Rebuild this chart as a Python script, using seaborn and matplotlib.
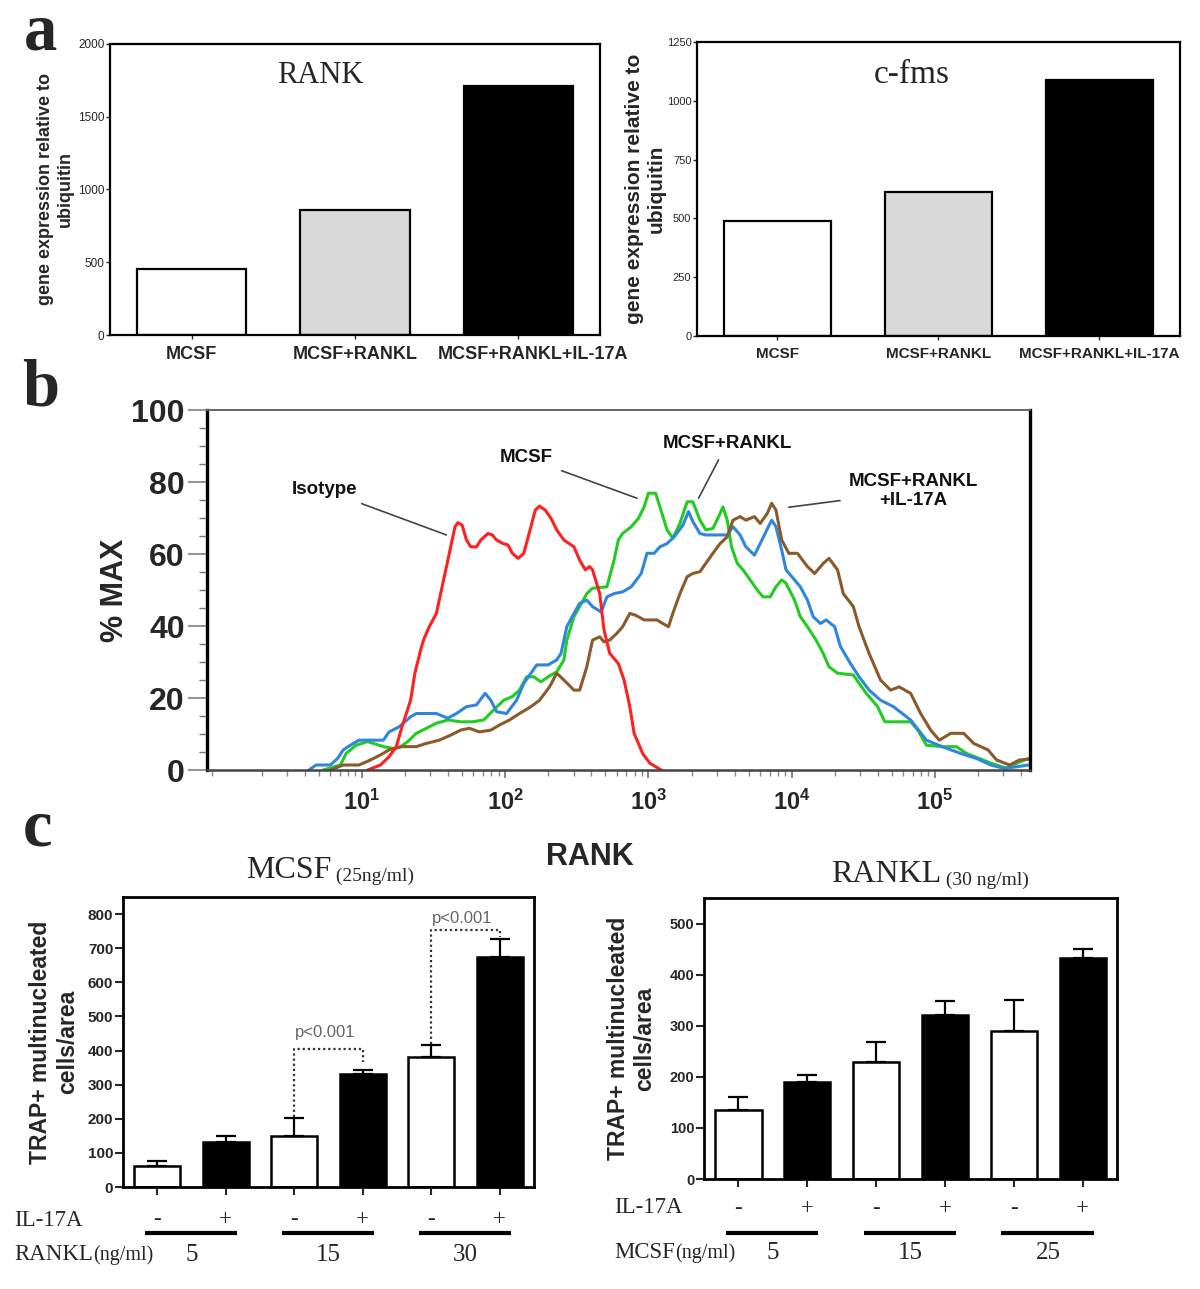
import numpy as np
import pandas as pd
import matplotlib
matplotlib.use("Agg")
import matplotlib.pyplot as plt
import matplotlib.transforms as mtransforms
from matplotlib.ticker import MultipleLocator, LogLocator, NullFormatter
import seaborn as sns

sns.set_style("ticks")
plt.rcParams["font.family"] = ["Liberation Sans", "DejaVu Sans"]
plt.rcParams["mathtext.fontset"] = "custom"
plt.rcParams["mathtext.rm"] = "Liberation Sans"
plt.rcParams["mathtext.bf"] = "Liberation Sans:bold"
SERIF = ["Liberation Serif", "DejaVu Serif"]

# ---- panel a: gene expression relative to ubiquitin ----
a_groups = ["MCSF", "MCSF+RANKL", "MCSF+RANKL+IL-17A"]
a_colors = ["white", "#d9d9d9", "black"]
rank_expr = [455, 858, 1714]
cfms_expr = [488, 611, 1088]

# ---- panel b: RANK flow cytometry histograms (log10 intensity, % of max) ----
b_samples = ["Isotype", "MCSF", "MCSF+RANKL", "MCSF+RANKL+IL-17A"]
b_colors = {"Isotype": "#ff2020", "MCSF": "#22cc22",
            "MCSF+RANKL": "#2f86dc", "MCSF+RANKL+IL-17A": "#8b5a2b"}
b_draw_order = ["MCSF", "MCSF+RANKL", "MCSF+RANKL+IL-17A", "Isotype"]

iso_log = [1.04, 1.13, 1.19, 1.24, 1.28, 1.34, 1.37, 1.41, 1.43, 1.47, 1.52, 1.54, 1.58,
           1.62, 1.65, 1.67, 1.70, 1.73, 1.76, 1.80, 1.83, 1.88, 1.91, 1.94, 1.98, 2.02,
           2.05, 2.09, 2.13, 2.18, 2.21, 2.24, 2.28, 2.32, 2.36, 2.41, 2.48, 2.52, 2.56,
           2.59, 2.61, 2.66, 2.69, 2.73, 2.79, 2.83, 2.87, 2.90, 2.96, 3.01, 3.09]
iso_pct = [0, 1.4, 3.7, 6.5, 12, 19.4, 26.9, 33.3, 36.1, 39.8, 43.5, 47.2, 54.6,
           62, 67.6, 68.7, 68, 63.9, 62, 62, 63.9, 65.7, 65.3, 63.9, 63, 62.5,
           60.2, 58.8, 60.2, 67.6, 72.2, 73.3, 72.2, 69.9, 66.7, 63.9, 62, 58.3, 55.6,
           56.5, 55.6, 49, 38.9, 32.4, 29.6, 25, 17.6, 10.2, 4.6, 1.9, 0]

mcsf_log = [0.73, 0.85, 0.89, 0.96, 1.04, 1.08, 1.15, 1.22, 1.27, 1.32, 1.38, 1.45, 1.52,
            1.60, 1.69, 1.77, 1.85, 1.92, 1.99, 2.05, 2.10, 2.15, 2.20, 2.25, 2.30, 2.36,
            2.41, 2.43, 2.48, 2.52, 2.57, 2.61, 2.71, 2.76, 2.79, 2.82, 2.88, 2.93, 2.97,
            3.00, 3.05, 3.08, 3.13, 3.17, 3.22, 3.27, 3.31, 3.36, 3.40, 3.45, 3.49, 3.52,
            3.55, 3.58, 3.62, 3.66, 3.71, 3.76, 3.80, 3.85, 3.89, 3.93, 3.96, 4.02, 4.06,
            4.11, 4.17, 4.22, 4.26, 4.32, 4.43, 4.47, 4.52, 4.60, 4.65, 4.83, 4.88, 4.94,
            5.05, 5.15, 5.22, 5.31, 5.39, 5.50, 5.57, 5.65]
mcsf_pct = [0, 1.4, 4.6, 6.9, 7.9, 7.4, 6.5, 6.0, 6.5, 7.9, 10.2, 11.6, 13.0,
            13.9, 13.4, 13.4, 13.9, 16.7, 19.4, 20.4, 22.2, 25.9, 25.9, 24.5, 25.9, 27.3,
            30.6, 36.0, 42.6, 45.4, 49.0, 50.5, 50.9, 58.3, 63.9, 65.7, 67.6, 69.9, 73.1,
            76.9, 76.9, 73.1, 66.7, 64.4, 68.5, 74.5, 74.5, 69.4, 66.7, 67.1, 70.4, 73.1,
            69.4, 62.0, 57.4, 55.6, 52.8, 50.0, 48.1, 48.1, 50.9, 52.8, 51.9, 47.2, 42.6,
            39.8, 36.1, 32.4, 28.7, 26.9, 26.4, 24.1, 21.3, 17.6, 13.4, 13.4, 11.1, 6.9,
            6.5, 6.5, 4.6, 3.2, 1.9, 0.5, 1.9, 3.2]

rankl_log = [0.63, 0.68, 0.78, 0.83, 0.87, 0.92, 0.98, 1.15, 1.19, 1.26, 1.34, 1.38, 1.52,
             1.60, 1.66, 1.73, 1.80, 1.86, 1.90, 1.94, 2.01, 2.08, 2.13, 2.18, 2.22, 2.30,
             2.36, 2.39, 2.43, 2.48, 2.52, 2.57, 2.61, 2.67, 2.71, 2.76, 2.82, 2.88, 2.95,
             2.99, 3.04, 3.08, 3.13, 3.18, 3.24, 3.28, 3.31, 3.36, 3.40, 3.55, 3.59, 3.64,
             3.68, 3.74, 3.78, 3.83, 3.86, 3.89, 3.93, 3.96, 4.02, 4.06, 4.11, 4.15, 4.20,
             4.24, 4.30, 4.34, 4.41, 4.47, 4.54, 4.62, 4.71, 4.83, 4.94, 5.05, 5.18, 5.29,
             5.39, 5.48, 5.57, 5.65]
rankl_pct = [0, 1.4, 1.4, 3.2, 5.6, 6.9, 8.3, 8.3, 10.6, 12.0, 14.8, 15.7, 15.7,
             14.4, 15.7, 17.6, 18.1, 21.3, 19.4, 16.2, 15.7, 19.4, 24.1, 26.9, 29.2, 29.2,
             30.6, 32.4, 39.8, 43.5, 46.3, 47.2, 45.4, 43.9, 48.1, 49.0, 49.5, 50.9, 54.6,
             60.2, 60.2, 62.0, 62.9, 64.8, 68.0, 71.8, 69.0, 65.7, 65.3, 65.3, 67.6, 65.3,
             62.0, 59.7, 62.9, 67.0, 69.4, 67.6, 61.1, 55.6, 52.8, 50.9, 47.2, 42.6, 40.7,
             41.7, 39.8, 34.3, 29.6, 25.9, 22.2, 19.4, 17.6, 13.9, 8.3, 6.5, 4.6, 3.2,
             1.4, 0.5, 0.9, 1.4]

il17_log = [0.78, 0.87, 0.98, 1.06, 1.13, 1.19, 1.28, 1.38, 1.45, 1.54, 1.62, 1.69, 1.75,
            1.82, 1.90, 1.96, 2.03, 2.10, 2.18, 2.24, 2.31, 2.36, 2.41, 2.48, 2.52, 2.57,
            2.61, 2.66, 2.69, 2.73, 2.78, 2.82, 2.87, 2.91, 2.97, 3.06, 3.10, 3.14, 3.17,
            3.22, 3.27, 3.31, 3.36, 3.40, 3.45, 3.50, 3.55, 3.59, 3.64, 3.68, 3.74, 3.78,
            3.83, 3.86, 3.89, 3.93, 3.98, 4.04, 4.11, 4.16, 4.22, 4.26, 4.32, 4.36, 4.43,
            4.47, 4.54, 4.62, 4.69, 4.75, 4.83, 4.90, 4.97, 5.03, 5.11, 5.20, 5.27, 5.37,
            5.43, 5.52, 5.59, 5.65]
il17_pct = [0, 1.4, 1.4, 2.8, 4.2, 5.6, 6.5, 6.5, 7.4, 8.3, 9.7, 11.1, 11.6,
            10.6, 11.1, 12.5, 13.9, 15.7, 17.6, 19.4, 23.1, 26.9, 25.0, 22.2, 22.2, 28.7,
            36.1, 37.0, 35.6, 36.1, 38.0, 39.8, 43.5, 43.0, 41.7, 41.7, 40.7, 39.8, 43.5,
            49.0, 53.7, 54.6, 55.1, 57.4, 60.2, 62.9, 64.8, 69.4, 70.4, 69.4, 70.4, 68.5,
            71.3, 74.1, 72.2, 63.9, 60.2, 60.2, 56.5, 54.6, 57.4, 58.8, 55.6, 49.0, 45.4,
            39.8, 32.4, 25.0, 22.2, 23.1, 21.3, 15.7, 11.1, 8.3, 10.2, 10.2, 7.4, 5.6,
            2.8, 1.4, 2.8, 3.0]

b_logs = [iso_log, mcsf_log, rankl_log, il17_log]
b_pcts = [iso_pct, mcsf_pct, rankl_pct, il17_pct]
b_label_text = ["Isotype", "MCSF", "MCSF+RANKL", "MCSF+RANKL\n+IL-17A"]
b_label_at = [(0.74, 77.8), (2.15, 86.7), (3.55, 90.8), (4.85, 77.5)]
b_label_tip = [(1.59, 65.3), (2.92, 75.5), (3.35, 75.5), (3.98, 73.0)]
b_decades = [1e1, 1e2, 1e3, 1e4, 1e5]
b_tick_labels = [r"$\mathbf{10^{1}}$", r"$\mathbf{10^{2}}$", r"$\mathbf{10^{3}}$",
                 r"$\mathbf{10^{4}}$", r"$\mathbf{10^{5}}$"]

# ---- panel c: TRAP+ multinucleated cells ----
c_il17 = ["-", "+", "-", "+", "-", "+"]
c_left_conc = ["5", "5", "15", "15", "30", "30"]
c_left_mean = [61, 132, 150, 330, 381, 675]
c_left_sem = [15, 19, 51, 13, 34, 51]
c_right_conc = ["5", "5", "15", "15", "25", "25"]
c_right_mean = [135, 190, 230, 321, 290, 433]
c_right_sem = [26, 14, 38, 27, 60, 17]
# p-value brackets: (bar i, bar j, bracket level, left foot, right foot, text level)
c_left_brackets = [(2, 3, 406, 205, 367, 452), (4, 5, 753, 420, 733, 787)]


def expression_panel(ax, values, ymax, ystep, title, title_pos, title_size,
                     xt_size, yt_size, yl_size, yl_x):
    sns.barplot(x=a_groups, y=values, hue=a_groups,
                palette=dict(zip(a_groups, a_colors)), saturation=1, width=0.67,
                edgecolor="black", linewidth=1.6, legend=False, ax=ax)
    ax.set_xlim(-0.5, 2.5)
    ax.set_ylim(0, ymax)
    ax.set_yticks(np.arange(0, ymax + 1, ystep))
    ax.tick_params(axis="y", labelsize=yt_size, length=3, width=1, pad=1)
    ax.tick_params(axis="x", labelsize=xt_size, length=3, width=1, pad=5)
    for lbl in ax.get_xticklabels():
        lbl.set_fontweight("bold")
    ax.set_xlabel("")
    ax.set_ylabel("gene expression relative to\nubiquitin", fontsize=yl_size,
                  fontweight="bold")
    ax.yaxis.set_label_coords(yl_x, 0.5)
    for s in ax.spines.values():
        s.set_linewidth(1.6)
        s.set_color("black")
    ax.text(title_pos[0], title_pos[1], title, transform=ax.transAxes, ha="center",
            va="center", fontsize=title_size, family=SERIF)


def trap_panel(ax, conc, means, sems, ymax, title, sub, title_xy, conc_name,
               label_x, sign_y, sign_pad, line_y, num_y, yl_x, yt_size):
    cats = [c + s for c, s in zip(conc, c_il17)]
    sns.barplot(x=cats, y=means, hue=c_il17, palette={"-": "white", "+": "black"},
                dodge=False, saturation=1, width=0.67, edgecolor="black",
                linewidth=1.8, legend=False, ax=ax)
    x = np.arange(len(cats))
    ax.errorbar(x, means, yerr=[np.zeros(len(x)), sems], fmt="none", ecolor="black",
                elinewidth=1.6, capsize=7, capthick=1.6)
    ax.set_xlim(-0.5, 5.5)
    ax.set_ylim(0, ymax)
    ax.yaxis.set_major_locator(MultipleLocator(100))
    ax.set_xticks(x, labels=c_il17, fontsize=16.5, family=SERIF)
    ax.tick_params(axis="x", length=6, width=1.5, pad=sign_pad)
    ax.tick_params(axis="y", length=6, width=1.5, pad=1, labelsize=yt_size)
    for lbl in ax.get_yticklabels():
        lbl.set_fontweight("bold")
    for s in ax.spines.values():
        s.set_linewidth(2)
        s.set_color("black")
    ax.set_xlabel("")
    ax.set_ylabel("TRAP+ multinucleated\ncells/area", fontsize=16.5, fontweight="bold")
    ax.yaxis.set_label_coords(yl_x, 0.5)

    trans = mtransforms.blended_transform_factory(ax.transData, ax.transAxes)
    for k in range(0, len(cats), 2):
        ax.plot([k - 0.18, k + 1.16], [line_y, line_y], transform=trans, color="black",
                lw=3, clip_on=False, solid_capstyle="butt")
        ax.text(k + 0.5, num_y, conc[k], transform=trans, ha="center", va="center",
                fontsize=18, family=SERIF)
    ax.text(label_x, sign_y, "IL-17A", transform=ax.transAxes, ha="left", va="center",
            fontsize=16.5, family=SERIF)
    t = ax.text(label_x, num_y, conc_name, transform=ax.transAxes, ha="left",
                va="center", fontsize=16.5, family=SERIF)
    ax.annotate("(ng/ml)", xy=(1, 0), xycoords=t, ha="left", va="bottom",
                fontsize=14.5, family=SERIF)

    t = ax.text(title_xy[0], title_xy[1], title, transform=ax.transAxes, ha="left",
                va="baseline", fontsize=23, family=SERIF)
    ax.annotate(sub, xy=(1, 0), xycoords=t, ha="left", va="bottom", fontsize=14,
                family=SERIF)


fig = plt.figure(figsize=(12, 12.89), dpi=100)

# panel a
ax_a1 = fig.add_axes([0.0917, 0.7401, 0.4083, 0.2258])
ax_a2 = fig.add_axes([0.5808, 0.7393, 0.4025, 0.2281])
expression_panel(ax_a1, rank_expr, 2000, 500, "RANK", (0.429, 0.893), 22,
                 13, 8.5, 13, -0.0735)
expression_panel(ax_a2, cfms_expr, 1250, 250, "c-fms", (0.445, 0.888), 24,
                 11, 8, 15, -0.064)
# the long label on the left chart sits a little to the right of its bar
last = ax_a1.get_xticklabels()[-1]
last.set_transform(last.get_transform()
                   + mtransforms.ScaledTranslation(0.15, 0, fig.dpi_scale_trans))

# panel b
ax_b = fig.add_axes([0.1725, 0.4026, 0.6858, 0.2793])
frames = []
for name, lg, pc in zip(b_samples, b_logs, b_pcts):
    frames.append(pd.DataFrame({"rank": np.power(10.0, lg), "pct": pc, "sample": name}))
hist = pd.concat(frames, ignore_index=True)
sns.lineplot(data=hist, x="rank", y="pct", hue="sample", hue_order=b_draw_order,
             palette=b_colors, estimator=None, sort=False, linewidth=2.2,
             legend=False, ax=ax_b)
ax_b.set_xscale("log")
ax_b.set_xlim(0.83, 4.6e5)
ax_b.set_ylim(0, 100)
ax_b.set_yticks(range(0, 101, 20), labels=[str(v) for v in range(0, 101, 20)],
                fontsize=23, fontweight="bold")
ax_b.yaxis.set_minor_locator(MultipleLocator(5))
ax_b.set_xticks(b_decades, labels=b_tick_labels, fontsize=17)
ax_b.xaxis.set_minor_locator(LogLocator(base=10, subs=np.arange(2, 10), numticks=20))
ax_b.xaxis.set_minor_formatter(NullFormatter())
ax_b.tick_params(axis="y", which="major", length=14, width=1.1, color="#777", pad=2)
ax_b.tick_params(axis="y", which="minor", length=6, width=1, color="#777")
ax_b.tick_params(axis="x", which="major", length=6, width=1.1, color="#666", pad=8)
ax_b.tick_params(axis="x", which="minor", length=4, width=1, color="#888")
ax_b.spines["left"].set_linewidth(2.4)
ax_b.spines["left"].set_color("black")
ax_b.spines["right"].set_linewidth(2.4)
ax_b.spines["right"].set_color("black")
ax_b.spines["bottom"].set_linewidth(1.8)
ax_b.spines["bottom"].set_color("#444")
ax_b.spines["top"].set_linewidth(1.4)
ax_b.spines["top"].set_color("#666")
ax_b.set_ylabel("% MAX", fontsize=22, fontweight="bold")
ax_b.yaxis.set_label_coords(-0.094, 0.5)
ax_b.set_xlabel("RANK", fontsize=22, fontweight="bold")
ax_b.xaxis.set_label_coords(0.465, -0.2)
for text, (tl, tp), (hl, hp) in zip(b_label_text, b_label_at, b_label_tip):
    ax_b.annotate(text, xy=(10 ** hl, hp), xytext=(10 ** tl, tp), ha="center",
                  va="center", fontsize=13.5, fontweight="bold", color="#111",
                  arrowprops=dict(arrowstyle="-", color="#444", lw=1.2,
                                  shrinkA=4, shrinkB=0))

# panel c
ax_c1 = fig.add_axes([0.1025, 0.0791, 0.3425, 0.2250])
ax_c2 = fig.add_axes([0.5867, 0.0853, 0.3442, 0.2180])
trap_panel(ax_c1, c_left_conc, c_left_mean, c_left_sem, 850, "MCSF", " (25ng/ml)",
           (0.299, 1.066), "RANKL", -0.265, -0.114, 10, -0.159, -0.234, -0.107, 11)
trap_panel(ax_c2, c_right_conc, c_right_mean, c_right_sem, 550, "RANKL", " (30 ng/ml)",
           (0.3075, 1.058), "MCSF", -0.218, -0.103, 8, -0.192, -0.263, -0.116, 10.5)
for i, j, top, lo, hi, ty in c_left_brackets:
    ax_c1.plot([i, i, j, j], [lo, top, top, hi], ls=(0, (1, 1.3)), color="#333", lw=1.6)
    ax_c1.text((i + j) / 2 - 0.05, ty, "p<0.001", ha="center", va="center",
               fontsize=12, color="#666")

# panel letters
for letter, x, y in [("a", 0.034, 1 - 50 / 1289), ("b", 0.034, 1 - 405 / 1289),
                     ("c", 0.031, 1 - 846 / 1289)]:
    fig.text(x, y, letter, fontsize=48, fontweight="bold", family=SERIF,
             ha="center", va="baseline")

fig.savefig("out.png", dpi=100)
